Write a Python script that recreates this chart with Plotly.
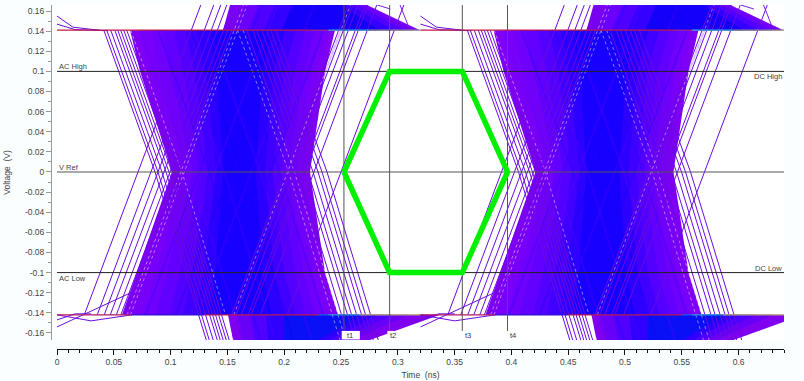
import plotly.graph_objects as go

# ---- axes ----
x_range = [0, 0.64]
y_range = [-0.167, 0.166]
x_ticks = [0, 0.05, 0.1, 0.15, 0.2, 0.25, 0.3, 0.35, 0.4, 0.45, 0.5, 0.55, 0.6]
x_labels = ["0", "0.05", "0.1", "0.15", "0.2", "0.25", "0.3", "0.35", "0.4", "0.45", "0.5", "0.55", "0.6"]
y_ticks = [0.16, 0.14, 0.12, 0.1, 0.08, 0.06, 0.04, 0.02, 0, -0.02, -0.04, -0.06, -0.08, -0.1, -0.12, -0.14, -0.16]
y_labels = ["0.16", "0.14", "0.12", "0.1", "0.08", "0.06", "0.04", "0.02", "0", "-0.02", "-0.04", "-0.06",
            "-0.08", "-0.1", "-0.12", "-0.14", "-0.16"]

# ---- eye body, one period, nested density bands ----
period_offsets = [0, 0.32]
band_colors = ["#8000f6", "#7800f8", "#6e00fc", "#6200ff", "#5200ff", "#4000ff", "#2c00ff", "#1800ff"]
body_y = [0.141, 0.1, 0, -0.1, -0.142]
body_left = [
    [.0643, .0731, .1012, .0704, .0572],
    [.0730, .0810, .1060, .0780, .0660],
    [.0820, .0900, .1120, .0870, .0760],
    [.0920, .1000, .1190, .0970, .0870],
    [.1030, .1110, .1260, .1080, .0990],
    [.1130, .1210, .1330, .1190, .1110],
    [.1230, .1310, .1400, .1290, .1220],
    [.1330, .1410, .1460, .1390, .1340],
]
body_right = [
    [.2447, .2359, .2227, .2359, .2474],
    [.2400, .2300, .2170, .2310, .2420],
    [.2340, .2240, .2110, .2250, .2350],
    [.2270, .2170, .2040, .2170, .2270],
    [.2190, .2090, .1970, .2090, .2190],
    [.2100, .2000, .1900, .2000, .2100],
    [.2010, .1910, .1830, .1910, .2000],
    [.1900, .1810, .1750, .1810, .1890],
]

# overshoot wedges: [at plateau, at clip edge]
top_y = [0.141, 0.166]
top_left = [[.1461, .1523], [.156, .166], [.168, .178], [.182, .192], [.198, .208]]
top_right = [[.3195, .2729], [.314, .270], [.306, .265], [.296, .258], [.284, .250]]
top_colors = ["#7c00f6", "#6800fc", "#5000ff", "#3400ff", "#1400f8"]
bot_y = [-0.142, -0.167]
bot_left = [[.1505, .1549], [.158, .164], [.170, .174], [.184, .186], [.200, .200]]
bot_right = [[.3371, .2755], [.310, .260], [.295, .250], [.282, .240], [.270, .230]]
bot_colors = ["#8000f0", "#6800f8", "#5000ff", "#3000ff", "#0a10f5"]

# ---- individual edges: time at which each edge crosses 0 V ----
rise_cross_left = [.0713, .0827, .0889, .0942, .0995, .1035, .1070]
fall_cross_left = [.0863, .0889, .0924, .0960, .0986, .1012, .1039, .1065]
rise_cross_right = [.2500, .2262, .2183, .2157, .2095, .2051, .2010]
fall_cross_right = [.2377, .2333, .2298, .2254, .2210, .2174, .2121]
dot_rise = [.1120, .1090, .2030]
dot_fall = [.2090, .2040, .1100]
streak_rise = [.125, .139, .152, .171, .188, .203]
streak_fall = [.118, .134, .147, .163, .179, .196]
streak_tone = ["#2000ff", "#6a00ff", "#1000f0", "#5a00ff", "#1800ff", "#6000ff"]
slope_rise = 0.333
slope_fall_up = 0.32
slope_fall_low = 0.27

# ---- short wrap-around traces at the period boundary ----
wrap_t = [[0, .014, .04], [0, .016, .045], [0, .025, .065], [0, .016, .03], [0, .03, .066]]
wrap_v = [[.155, .144, .1405], [.147, .1415, .1405], [-.154, -.141, -.12], [-.147, -.141, -.141], [-.142, -.148, -.142]]
wrap_top_t = [.2820, .2935, .3095, .3020, .3190]
wrap_top_v = [.166, .162, .1445, .166, .150]

# ---- plateau colour segments, one period ----
plateau_top_t = [0, .2230, .2390, .2750, .32]
plateau_top_c = ["#c01848", "#a02a80", "#38b0c8", "#8f9088"]
plateau_bot_t = [0, .0650, .1300, .2300, .2390, .2660, .32]
plateau_bot_c = ["#b01860", "#3010d8", "#b81850", "#2060e0", "#30a0d0", "#b8a868"]
plateau_v_top = 0.141
plateau_v_bot = -0.142

# ---- reference levels and timing markers ----
level_v = [0.1, 0, -0.1]
level_color = ["#222222", "#555555", "#222222"]
marker_t = [0.2526, 0.2928, 0.3568, 0.3966]
marker_low = [-0.165, -0.159, -0.159, -0.159]
marker_names = ["t1", "t2", "t3", "t4"]
mask_v = [0, 0.1, 0.1, 0, -0.1, -0.1, 0]
mask_order_t = [0.2526, 0.2928, 0.3568, 0.3966, 0.3568, 0.2928, 0.2526]

fig = go.Figure()


def poly(xs, ys, color):
    fig.add_trace(go.Scatter(x=xs, y=ys, mode="lines", fill="toself", fillcolor=color,
                             line=dict(width=0), hoverinfo="skip", showlegend=False))


def line(xs, ys, color, width=1.0, dash=None, opacity=1.0):
    fig.add_trace(go.Scatter(x=xs, y=ys, mode="lines", opacity=opacity,
                             line=dict(color=color, width=width, dash=dash),
                             hoverinfo="skip", showlegend=False))


for off in period_offsets:
    for i, c in enumerate(top_colors):
        poly([top_left[i][0] + off, top_left[i][1] + off, top_right[i][1] + off, top_right[i][0] + off],
             [top_y[0], top_y[1], top_y[1], top_y[0]], c)
    for i, c in enumerate(bot_colors):
        poly([bot_left[i][0] + off, bot_left[i][1] + off, bot_right[i][1] + off, bot_right[i][0] + off],
             [bot_y[0], bot_y[1], bot_y[1], bot_y[0]], c)
    for i, c in enumerate(band_colors):
        xs = [t + off for t in body_left[i]] + [t + off for t in reversed(body_right[i])]
        poly(xs, body_y + body_y[::-1], c)

    def rise(t0):
        return [t0 + off + plateau_v_bot * slope_rise, t0 + off + y_range[1] * slope_rise], [plateau_v_bot, y_range[1]]

    def fall(t0):
        return ([t0 + off - plateau_v_top * slope_fall_up, t0 + off, t0 + off - y_range[0] * slope_fall_low],
                [plateau_v_top, 0, y_range[0]])

    for i, t0 in enumerate(streak_rise):
        a, b = rise(t0)
        line(a, b, streak_tone[i], 2, opacity=0.25)
    for i, t0 in enumerate(streak_fall):
        a, b = fall(t0)
        line(a, b, streak_tone[-i - 1], 2, opacity=0.25)
    for t0 in dot_rise:
        a, b = rise(t0)
        line(a, b, "#ffffff", 0.8, "dot", 0.6)
    for t0 in dot_fall:
        a, b = fall(t0)
        line(a, b, "#ffffff", 0.8, "dot", 0.6)
    for t0 in rise_cross_left + rise_cross_right:
        a, b = rise(t0)
        line(a, b, "#6a0ae0", 1)
    for t0 in fall_cross_left + fall_cross_right:
        a, b = fall(t0)
        line(a, b, "#6a0ae0", 1)
    for i in range(len(wrap_t)):
        line([t + off for t in wrap_t[i]], wrap_v[i], "#6a0ae0", 1)
    for i in range(0, len(wrap_top_t) - 1, 2):
        line([wrap_top_t[i] + off, wrap_top_t[i + 1] + off], [wrap_top_v[i], wrap_top_v[i + 1]], "#7a20e8", 1)
    for i, c in enumerate(plateau_top_c):
        line([plateau_top_t[i] + off, plateau_top_t[i + 1] + off], [plateau_v_top, plateau_v_top], c, 1.2)
    for i, c in enumerate(plateau_bot_c):
        line([plateau_bot_t[i] + off, plateau_bot_t[i + 1] + off], [plateau_v_bot, plateau_v_bot], c, 1.2)

for v, c in zip(level_v, level_color):
    line(x_range, [v, v], c, 1)
for t, low in zip(marker_t, marker_low):
    line([t, t], [low, y_range[1]], "#555555", 1)

line(mask_order_t, mask_v, "#00f000", 5.5)

text_color = "#444444"
notes = [
    (0.0005, 0.1045, "AC High", "left"),
    (0.0005, 0.0045, "V Ref", "left"),
    (0.0005, -0.1055, "AC Low", "left"),
    (0.6395, 0.0945, "DC High", "right"),
    (0.6395, -0.0955, "DC Low", "right"),
]
annots = [dict(x=x, y=y, xref="x", yref="y", text=t, xanchor=a, yanchor="middle", showarrow=False,
               borderpad=0, font=dict(size=7.5, color=text_color, family="Liberation Sans")) for x, y, t, a in notes]
box_w = [0.016, 0.006, 0.006, 0.006]
label_shift = [0.0005, -0.0015, 0.0002, 0.0002]
for t, name, w, sh in zip(marker_t, marker_names, box_w, label_shift):
    fig.add_shape(type="rect", xref="x", yref="y", x0=t - 0.002, x1=t - 0.002 + w, y0=-0.1665, y1=-0.158,
                  fillcolor="#ffffff", line=dict(width=0), layer="above")
    annots.append(dict(x=t + sh, y=-0.1622, xref="x", yref="y", text=name, xanchor="left", yanchor="middle",
                       showarrow=False, font=dict(size=7.5, color="#333333", family="Liberation Sans")))

tick_font = dict(size=8.5, color=text_color, family="Liberation Sans")
fig.update_layout(
    width=804, height=381,
    margin=dict(l=51, r=20, t=5, b=32, autoexpand=False),
    paper_bgcolor="#fbfefe", plot_bgcolor="#ffffff",
    showlegend=False, annotations=annots,
    xaxis=dict(range=x_range, domain=[0.0082, 1], anchor="free", position=0,
               tickmode="array", tickvals=x_ticks, ticktext=x_labels, tickangle=0,
               showgrid=False, zeroline=False, showline=True, linecolor="#111111", linewidth=1,
               ticks="outside", ticklen=5, tickcolor="#111111", tickfont=tick_font,
               minor=dict(dtick=0.01, tick0=0, ticks="outside", ticklen=3, tickcolor="#111111", showgrid=False),
               title=dict(text="Time  (ns)", font=dict(size=8.5, color=text_color, family="Liberation Sans"), standoff=5)),
    yaxis=dict(range=y_range, domain=[0.0262, 1], anchor="free", position=0,
               tickmode="array", tickvals=y_ticks, ticktext=y_labels,
               showgrid=False, zeroline=False, showline=True, linecolor="#999999", linewidth=1,
               ticks="outside", ticklen=5, tickcolor="#999999", tickfont=tick_font,
               minor=dict(dtick=0.01, tick0=0, ticks="outside", ticklen=3, tickcolor="#999999", showgrid=False),
               title=dict(text="Voltage  (V)", font=dict(size=8.5, color=text_color, family="Liberation Sans"), standoff=11)),
)
fig.write_html("out.html", config={"displayModeBar": False},
               post_script="document.body.style.margin='0';document.documentElement.style.background='#fbfefe';")
